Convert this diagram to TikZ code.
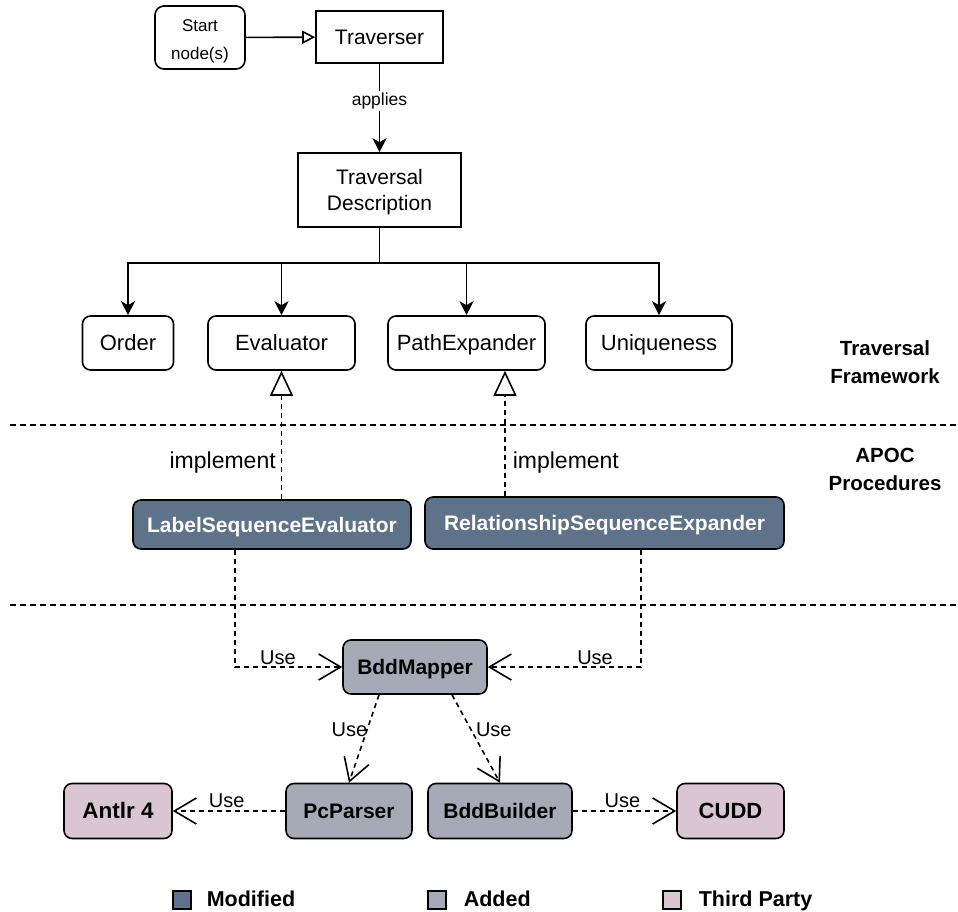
\documentclass[tikz,border=0pt]{standalone}
\usepackage{fontspec}
\setmainfont{Liberation Sans}
\usetikzlibrary{arrows.meta}

\definecolor{modfill}{RGB}{94,114,137}
\definecolor{addfill}{RGB}{165,170,182}
\definecolor{thirdfill}{RGB}{218,198,210}

\begin{document}
\begin{tikzpicture}[x=1pt, y=-1pt, line width=1.6pt,
  txt/.style={font=\fontsize{21}{26}\selectfont},
  oneline/.style={text height=15pt, text depth=0pt},
  plainbox/.style={draw, inner sep=0pt, align=center, txt},
  roundbox/.style={plainbox, rounded corners=8pt, oneline, font=\fontsize{22}{26}\selectfont},
  boldbox/.style={draw, rounded corners=8pt, inner sep=0pt, align=center, oneline,
    font=\bfseries\fontsize{21}{26}\selectfont},
  modbox/.style={boldbox, fill=modfill, text=white},
  addbox/.style={boldbox, fill=addfill},
  thirdbox/.style={boldbox, fill=thirdfill},
  tree/.style={-{Stealth[length=14pt, width=14pt, inset=4pt]}},
  openarrow/.style={-{Triangle[open, fill=white, length=13pt, width=13pt]}},
  realize/.style={dash pattern=on 5pt off 4pt, -{Triangle[open, fill=white, length=25pt, width=23pt]}},
  uses/.style={dash pattern=on 5pt off 4pt, -{Straight Barb[length=22pt, width=26pt]}},
  separator/.style={dash pattern=on 6pt off 4pt, line width=1.3pt},
  section/.style={align=center, font=\bfseries\fontsize{20.5}{28}\selectfont},
  lbl/.style={font=\fontsize{20}{24}\selectfont, inner sep=0pt},
  implabel/.style={lbl, font=\fontsize{23}{26}\selectfont},
  legsq/.style={draw, line width=1.3pt, minimum width=18pt, minimum height=18pt, inner sep=0pt},
  legtxt/.style={anchor=west, inner sep=0pt, text height=15pt, text depth=0pt,
    font=\bfseries\fontsize{21.5}{24}\selectfont}
]
\useasboundingbox (0,0) rectangle (958,911);

% Traversal framework
\node[plainbox, rounded corners=9pt, minimum width=90pt, minimum height=63pt,
      font=\fontsize{17}{28}\selectfont] (start) at (200,37.5) {\rule{0pt}{20pt}Start\\node(s)};
\node[plainbox, oneline, minimum width=127pt, minimum height=52pt] (trav) at (379.5,37) {Traverser};
\node[plainbox, minimum width=163pt, minimum height=74pt] (desc) at (379.5,190) {\rule{0pt}{20pt}Traversal\\Description};

\node[roundbox, minimum width=91pt,  minimum height=54pt] (order) at (128,343)   {Order};
\node[roundbox, minimum width=147pt, minimum height=54pt] (eval)  at (281.5,343) {Evaluator};
\node[roundbox, minimum width=157pt, minimum height=54pt] (pexp)  at (466.5,343) {PathExpander};
\node[roundbox, minimum width=146pt, minimum height=54pt] (uniq)  at (659,343)   {Uniqueness};

\draw[openarrow] (start) -- (trav);
\draw[tree] (trav.south) -- node[lbl, fill=white, inner sep=2pt, pos=0.42,
  font=\fontsize{17.5}{20}\selectfont] (applies) {applies} (desc.north);

\path (desc.south) ++(0,35) coordinate (split);
\draw (desc.south) -- (split);
\draw[tree] (split) -| (order.north);
\draw[tree] (split) -| (eval.north);
\draw[tree] (split) -| (pexp.north);
\draw[tree] (split) -| (uniq.north);

% Section separators and titles
\coordinate (sepA-l) at (10,425);
\coordinate (sepA-r) at (958,425);
\coordinate (sepB-l) at (10,605);
\coordinate (sepB-r) at (958,605);
\draw[separator] (sepA-l) -- (sepA-r);
\draw[separator] (sepB-l) -- (sepB-r);
\node[section] (secTF) at (885,362) {Traversal\\Framework};
\node[section] (secAP) at (885,469) {APOC\\Procedures};

% APOC procedures
\node[modbox, minimum width=278pt, minimum height=49pt] (lse) at (272,524.5) {LabelSequenceEvaluator};
\node[modbox, minimum width=359pt, minimum height=52pt] (rse) at (604.5,523) {RelationshipSequenceExpander};

\draw[realize] (eval.south |- lse.north) -- node[implabel, pos=0.285, anchor=east, xshift=-5pt] (implL) {implement} (eval.south);
\draw[realize] ([xshift=-99.5pt]rse.north) -- node[implabel, pos=0.27, anchor=west, xshift=7pt] (implR) {implement} ([xshift=-99.5pt]rse.north |- pexp.south);

% Added components
\node[addbox, minimum width=144pt, minimum height=54pt] (bdd)  at (415,667) {BddMapper};
\node[addbox, minimum width=126pt, minimum height=55pt] (pcp)  at (349,811) {PcParser};
\node[addbox, minimum width=144pt, minimum height=55pt] (bddb) at (500,811) {BddBuilder};
\node[thirdbox, minimum width=108pt, minimum height=55pt, font=\bfseries\fontsize{22.5}{26}\selectfont] (antlr) at (118,811) {Antlr 4};
\node[thirdbox, minimum width=107pt, minimum height=55pt, font=\bfseries\fontsize{22}{26}\selectfont] (cudd)  at (730.5,811) {CUDD};

\draw[uses] ([xshift=-37pt]lse.south) |- node[lbl, pos=0.7, yshift=9pt] (useA) {Use} (bdd.west);
\draw[uses] ([xshift=36.5pt]rse.south) |- node[lbl, pos=0.65, yshift=9pt] (useB) {Use} (bdd.east);
\draw[uses] ([xshift=-36pt]bdd.south) -- node[lbl, pos=0.4, anchor=east, xshift=1pt] (useC) {Use} (pcp.north);
\draw[uses] ([xshift=37pt]bdd.south) -- node[lbl, pos=0.4, anchor=west, xshift=4pt] (useD) {Use} (bddb.north);
\draw[uses] (pcp.west) -- node[lbl, pos=0.52, yshift=10pt] (useE) {Use} (antlr.east);
\draw[uses] (bddb.east) -- node[lbl, pos=0.48, yshift=10pt] (useF) {Use} (cudd.west);

% Legend
\node[legsq, fill=modfill]   (legM) at (182,900) {};
\node[legtxt] (legMt) at (206,899) {Modified};
\node[legsq, fill=addfill]   (legA) at (437,900) {};
\node[legtxt] (legAt) at (463,899) {Added};
\node[legsq, fill=thirdfill] (legT) at (672,900) {};
\node[legtxt] (legTt) at (698,899) {Third Party};
\end{tikzpicture}
\end{document}
